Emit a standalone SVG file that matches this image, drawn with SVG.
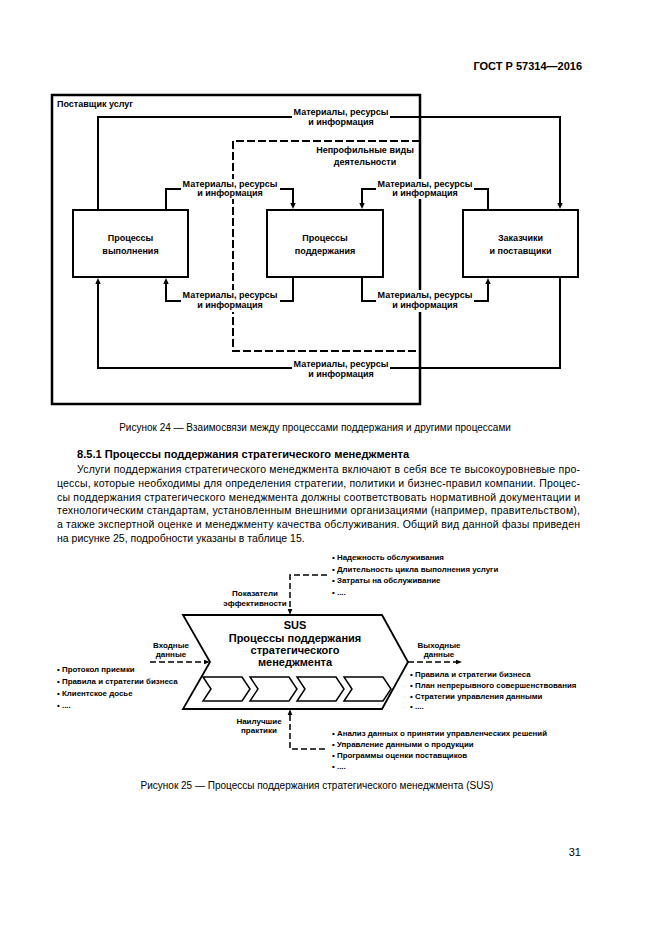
<svg xmlns="http://www.w3.org/2000/svg" width="661" height="935" viewBox="0 0 661 935">
<defs>
<style>
.t{font-family:"Liberation Sans",Arial,sans-serif;fill:#000}
.f1{font-size:9px;font-weight:bold;text-anchor:middle}
.f2{font-size:7.9px;font-weight:bold}
.f2c{font-size:8px;font-weight:bold;text-anchor:middle}
.chv{font-size:11px;font-weight:bold;text-anchor:middle}
.body{font-size:10.5px}
.cap{font-size:10px;text-anchor:middle}
.box{fill:#fff;stroke:#000;stroke-width:2}
.ln{fill:none;stroke:#000;stroke-width:2}
.dash{fill:none;stroke:#000;stroke-width:2;stroke-dasharray:8,3}
.dl{fill:none;stroke:#000;stroke-width:1.5;stroke-dasharray:6,3}
.wb{fill:#fff;stroke:none}
.sh{fill:#fff;stroke:#000;stroke-width:1.8;stroke-linejoin:miter}
.sc{fill:#fff;stroke:#000;stroke-width:1.5}
</style>
<marker id="a1" markerUnits="userSpaceOnUse" markerWidth="6" markerHeight="6" viewBox="0 -3 6 6" refX="0" refY="0" orient="auto"><path d="M0,-2.7 L6,0 L0,2.7 Z" fill="#000"/></marker>
<marker id="a2" markerUnits="userSpaceOnUse" markerWidth="6" markerHeight="6" viewBox="0 -3 6 6" refX="0" refY="0" orient="auto"><path d="M0,-2.3 L6,0 L0,2.3 Z" fill="#000"/></marker>
</defs>
<rect width="661" height="935" fill="#fff"/>

<text class="t" x="582" y="70" font-size="11" font-weight="bold" text-anchor="end">ГОСТ Р 57314—2016</text>

<!-- Figure 24 -->
<g id="provider">
<rect x="52" y="95" width="368" height="309" fill="none" stroke="#000" stroke-width="2.5"/>
<text class="t" x="57" y="107" font-size="9" font-weight="bold">Поставщик услуг</text>
</g>
<g id="noncore">
<path class="dash" d="M420,141 H233 V351 H420"/>
<text class="t f1" x="365" y="153">Непрофильные виды</text>
<text class="t f1" x="365" y="165">деятельности</text>
</g>
<g id="connectors">
<path class="ln" d="M98,210 V117 H560 V203" marker-end="url(#a1)"/>
<path class="ln" d="M166,210 V189 H293 V203" marker-end="url(#a1)"/>
<path class="ln" d="M488,210 V189 H362 V203" marker-end="url(#a1)"/>
<path class="ln" d="M293,277 V301 H166 V284" marker-end="url(#a1)"/>
<path class="ln" d="M362,277 V301 H488 V284" marker-end="url(#a1)"/>
<path class="ln" d="M560,277 V368 H98 V284" marker-end="url(#a1)"/>
<rect class="wb" x="292" y="107" width="98" height="21"/>
<rect class="wb" x="181" y="179" width="99" height="20"/>
<rect class="wb" x="376" y="179" width="98" height="20"/>
<rect class="wb" x="181" y="290" width="99" height="22"/>
<rect class="wb" x="376" y="290" width="98" height="22"/>
<rect class="wb" x="292" y="358" width="98" height="22"/>
<text class="t f1" x="341" y="115">Материалы, ресурсы</text>
<text class="t f1" x="341" y="125">и информация</text>
<text class="t f1" x="230" y="187">Материалы, ресурсы</text>
<text class="t f1" x="230" y="196">и информация</text>
<text class="t f1" x="425" y="187">Материалы, ресурсы</text>
<text class="t f1" x="425" y="196">и информация</text>
<text class="t f1" x="230" y="298">Материалы, ресурсы</text>
<text class="t f1" x="230" y="308">и информация</text>
<text class="t f1" x="425" y="298">Материалы, ресурсы</text>
<text class="t f1" x="425" y="308">и информация</text>
<text class="t f1" x="341" y="367">Материалы, ресурсы</text>
<text class="t f1" x="341" y="377">и информация</text>
</g>
<g id="execution">
<rect class="box" x="73" y="210" width="115" height="67"/>
<text class="t f1" x="130.5" y="241">Процессы</text>
<text class="t f1" x="130.5" y="254">выполнения</text>
</g>
<g id="support">
<rect class="box" x="267" y="210" width="116" height="67"/>
<text class="t f1" x="325" y="241">Процессы</text>
<text class="t f1" x="325" y="254">поддержания</text>
</g>
<g id="customers">
<rect class="box" x="463" y="210" width="115" height="67"/>
<text class="t f1" x="520.5" y="241">Заказчики</text>
<text class="t f1" x="520.5" y="254">и поставщики</text>
</g>

<text class="t cap" x="315" y="431">Рисунок 24 — Взаимосвязи между процессами поддержания и другими процессами</text>

<!-- Text block -->
<text class="t" x="77" y="458" font-size="11.1" font-weight="bold">8.5.1 Процессы поддержания стратегического менеджмента</text>
<text class="t body" x="77" y="473" textLength="503" lengthAdjust="spacing">Услуги поддержания стратегического менеджмента включают в себя все те высокоуровневые про-</text>
<text class="t body" x="57" y="486.8" textLength="523" lengthAdjust="spacing">цессы, которые необходимы для определения стратегии, политики и бизнес-правил компании. Процес-</text>
<text class="t body" x="57" y="500.6" textLength="523" lengthAdjust="spacing">сы поддержания стратегического менеджмента должны соответствовать нормативной документации и</text>
<text class="t body" x="57" y="514.4" textLength="523" lengthAdjust="spacing">технологическим стандартам, установленным внешними организациями (например, правительством),</text>
<text class="t body" x="57" y="528.2" textLength="523" lengthAdjust="spacing">а также экспертной оценке и менеджменту качества обслуживания. Общий вид данной фазы приведен</text>
<text class="t body" x="57" y="542">на рисунке 25, подробности указаны в таблице 15.</text>

<!-- Figure 25 -->
<g id="sus">
<polygon class="sh" points="183,615 382,615 408,662 382,709 183,709 210,662"/>
<polygon class="sc" points="203,677 242,677 250,689 242,701 203,701 211,689"/>
<polygon class="sc" points="250,677 289,677 297,689 289,701 250,701 258,689"/>
<polygon class="sc" points="297,677 336,677 344,689 336,701 297,701 305,689"/>
<polygon class="sc" points="344,677 383,677 391,689 383,701 344,701 352,689"/>
<text class="t chv" x="295" y="629">SUS</text>
<text class="t chv" x="295" y="642">Процессы поддержания</text>
<text class="t chv" x="295" y="654">стратегического</text>
<text class="t chv" x="295" y="666">менеджмента</text>
</g>
<g id="connectors2">
<path class="dl" d="M327,575 H290 V609" marker-end="url(#a2)"/>
<path class="dl" d="M325,749 H290 V715" marker-end="url(#a2)"/>
<path class="dl" d="M150,662 H204" marker-end="url(#a2)"/>
<path class="dl" d="M408,662 H456" marker-end="url(#a2)"/>
</g>
<g id="kpi">
<text class="t f2c" x="255" y="596">Показатели</text>
<text class="t f2c" x="255" y="606">эффективности</text>
<text class="t f2" x="332" y="560">• Надежность обслуживания</text>
<text class="t f2" x="332" y="572">• Длительность цикла выполнения услуги</text>
<text class="t f2" x="332" y="583">• Затраты на обслуживание</text>
<text class="t f2" x="332" y="595">• ....</text>
</g>
<g id="inputs">
<text class="t f2c" x="171" y="648">Входные</text>
<text class="t f2c" x="171" y="657">данные</text>
<text class="t f2" x="57" y="672">• Протокол приемки</text>
<text class="t f2" x="57" y="684">• Правила и стратегии бизнеса</text>
<text class="t f2" x="57" y="696">• Клиентское досье</text>
<text class="t f2" x="57" y="708">• ....</text>
</g>
<g id="outputs">
<text class="t f2c" x="439" y="648">Выходные</text>
<text class="t f2c" x="439" y="657">данные</text>
<text class="t f2" x="410" y="677">• Правила и стратегии бизнеса</text>
<text class="t f2" x="410" y="688">• План непрерывного совершенствования</text>
<text class="t f2" x="410" y="699">• Стратегии управления данными</text>
<text class="t f2" x="410" y="709">• ....</text>
</g>
<g id="bestpractice">
<text class="t f2c" x="259" y="724">Наилучшие</text>
<text class="t f2c" x="259" y="733">практики</text>
<text class="t f2" x="332" y="736">• Анализ данных о принятии управленческих решений</text>
<text class="t f2" x="332" y="747">• Управление данными о продукции</text>
<text class="t f2" x="332" y="758">• Программы оценки поставщиков</text>
<text class="t f2" x="332" y="769">• ....</text>
</g>

<text class="t cap" x="317" y="789">Рисунок 25 — Процессы поддержания стратегического менеджмента (SUS)</text>

<text class="t" x="581" y="856" font-size="11" text-anchor="end">31</text>
</svg>
